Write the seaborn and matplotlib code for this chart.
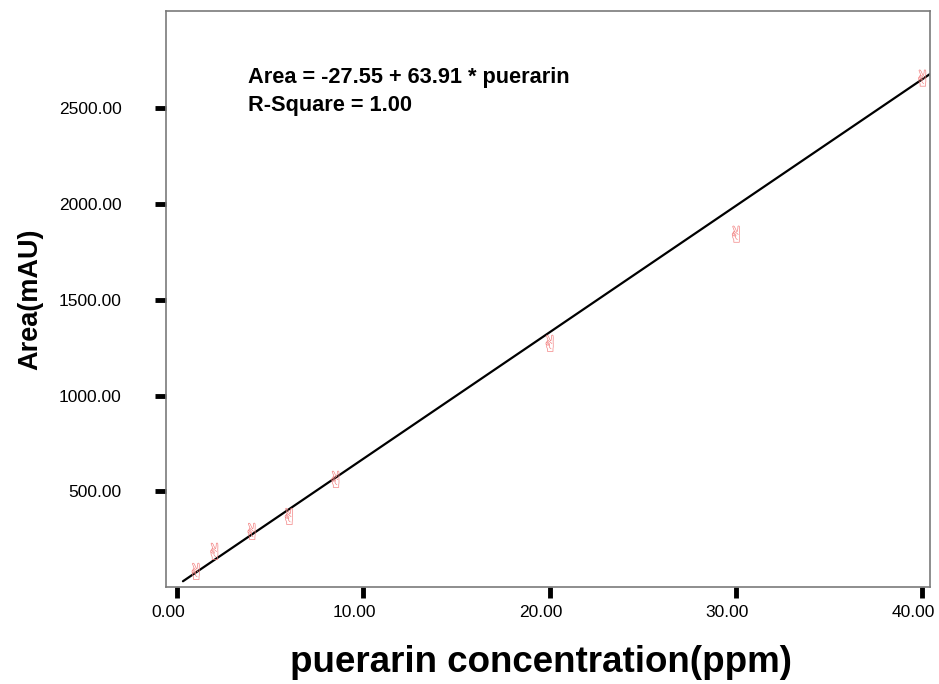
import matplotlib
matplotlib.use("Agg")
import matplotlib.pyplot as plt
import matplotlib.transforms as mtransforms
import seaborn as sns
import pandas as pd

# data
conc = [1.0, 2.0, 4.0, 6.0, 8.5, 20.0, 30.0, 40.0]
area = [82, 187, 291, 369, 563, 1273, 1843, 2658]
fit_x = [0.32, 40.42]
fit_y = [30, 2679]
xticks = [0, 10, 20, 30, 40]
yticks = [500, 1000, 1500, 2000, 2500]
eq_text = "Area = -27.55 + 63.91 * puerarin"
r2_text = "R-Square = 1.00"

sns.set_theme(style="white")
plt.rcParams['font.family'] = ['Liberation Sans', 'DejaVu Sans']
plt.rcParams['mathtext.fontset'] = 'custom'
plt.rcParams['mathtext.rm'] = 'DejaVu Sans'
plt.rcParams['mathtext.it'] = 'DejaVu Sans'
plt.rcParams['mathtext.bf'] = 'DejaVu Sans:bold'
plt.rcParams['text.color'] = 'black'
plt.rcParams['axes.labelcolor'] = 'black'

W, H = 939, 684
fig = plt.figure(figsize=(W / 100, H / 100), dpi=100)
ax = fig.add_axes([166 / W, (H - 587) / H, (930 - 166) / W, (587 - 11) / H])

df_pts = pd.DataFrame({"x": conc, "y": area})
df_fit = pd.DataFrame({"x": fit_x, "y": fit_y})

sns.lineplot(data=df_fit, x="x", y="y", ax=ax, color="black", linewidth=1.6)
sns.scatterplot(data=df_pts, x="x", y="y", ax=ax, marker="$\u270C$",
                s=150, color="#f28080", edgecolor="none", linewidth=0, zorder=3)

ax.set_xlim(-0.59, 40.42)
ax.set_ylim(0, 3008)
ax.set_xticks(xticks)
ax.set_xticklabels([f"{v:.2f}" for v in xticks])
ax.set_yticks(yticks)
ax.set_yticklabels([f"{v:.2f}" for v in yticks])

ax.tick_params(axis="both", which="major", direction="out", length=8,
               width=3.5, color="black", labelsize=12.5, labelcolor="black",
               bottom=True, left=True, top=False, right=False)
ax.tick_params(axis="y", pad=24)
ax.tick_params(axis="x", pad=5)

# x tick labels sit slightly left of their ticks in the reference
shift = mtransforms.ScaledTranslation(-9 / 100, 0, fig.dpi_scale_trans)
for lbl in ax.get_xticklabels():
    lbl.set_transform(lbl.get_transform() + shift)

for s in ax.spines.values():
    s.set_color("#7a7a7a")
    s.set_linewidth(1.2)
    s.set_visible(True)

ax.set_xlabel("puerarin concentration(ppm)", fontsize=26.5, fontweight="bold")
ax.xaxis.set_label_coords((541 - 166) / (930 - 166), (587 - 645) / 576)
ax.set_ylabel("Area(mAU)", fontsize=19.5, fontweight="bold", labelpad=11)

fig.text(248 / W, 1 - 78 / H, eq_text, fontsize=15.7, fontweight="bold",
         va="center", ha="left", color="black")
fig.text(248 / W, 1 - 105 / H, r2_text, fontsize=15.7, fontweight="bold",
         va="center", ha="left", color="black")
ax.grid(False)

fig.savefig("out.png", dpi=100)
